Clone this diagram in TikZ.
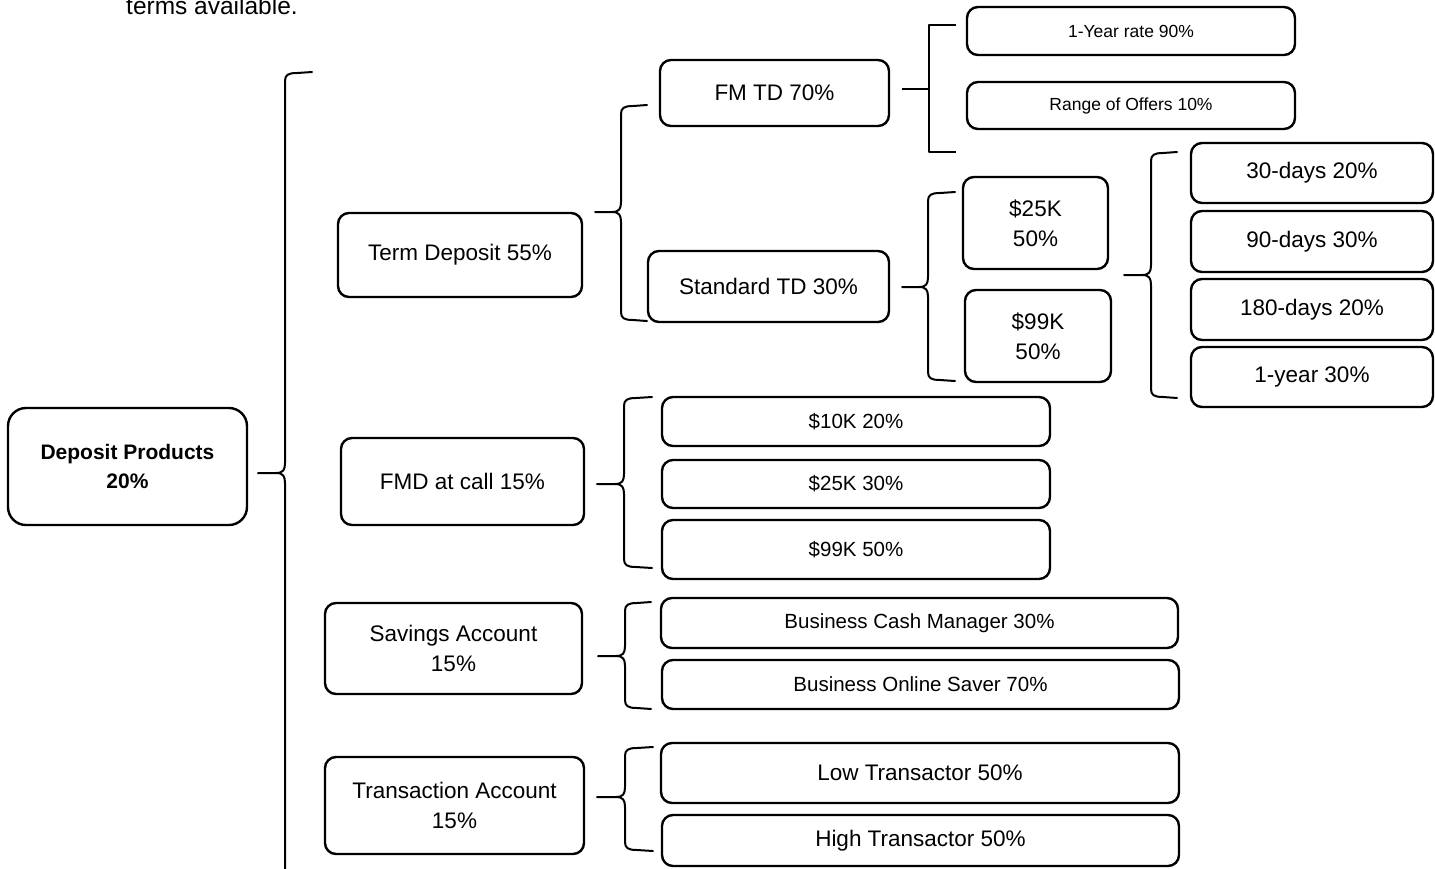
\documentclass[tikz,border=0pt]{standalone}
\usepackage{fontspec}
\setmainfont{Liberation Sans}
\begin{document}
\begin{tikzpicture}[x=1pt,y=-1pt,
  box/.style={draw=black,line width=2.4pt,rounded corners=11pt,align=center,inner sep=0pt,
    font=\fontsize{22.5}{30}\selectfont},
  medbox/.style={box,font=\fontsize{20.5}{26}\selectfont},
  smallbox/.style={box,font=\fontsize{17.5}{22}\selectfont},
  brace/.style={draw=black,line width=2pt,line cap=round,line join=round}]
\clip (0,0) rectangle (1435,868);
\fill[white] (0,0) rectangle (1435,868);
% brace macro: tip x, tip y, vertical x, top y, bottom y, end x
\newcommand\mybrace[6]{%
  \draw[brace] (#1,#2) -- ({#3-9},#2) .. controls ({#3-2},#2) and (#3,{#2-3}) .. (#3,{#2-10})
     -- (#3,{#4+8}) .. controls (#3,{#4+2}) and ({#3+3},#4) .. ({#3+12},#4) -- (#6,{#4-1});
  \draw[brace] ({#3-9},#2) .. controls ({#3-2},#2) and (#3,{#2+3}) .. (#3,{#2+10})
     -- (#3,{#5-8}) .. controls (#3,{#5-2}) and ({#3+3},#5) .. ({#3+12},#5) -- (#6,{#5+1});}

\node[anchor=base west,font=\fontsize{24.5}{28}\selectfont,inner sep=0pt] (cap) at (126,14) {terms available.};

% level 0
\node[box,rounded corners=18pt,font=\bfseries\fontsize{21}{29}\selectfont,minimum width=239pt,minimum height=117pt] (dp) at (127.5,466.5) {Deposit Products\\20\%};

% level 1
\node[box,minimum width=244pt,minimum height=84pt] (td) at (460,255) {Term Deposit 55\%};
\node[box,minimum width=243pt,minimum height=87pt] (fmd) at (462.5,481.5) {FMD at call 15\%};
\node[box,minimum width=257pt,minimum height=91pt] (sav) at (453.5,648.5) {Savings Account\\15\%};
\node[box,minimum width=259pt,minimum height=97pt] (tra) at (454.5,805.5) {Transaction Account\\15\%};

% level 2 (term deposit)
\node[box,minimum width=229pt,minimum height=66pt] (fmtd) at (774.5,93) {FM TD 70\%};
\node[box,minimum width=241pt,minimum height=71pt] (std) at (768.5,286.5) {Standard TD 30\%};

\node[smallbox,minimum width=328pt,minimum height=48pt] (yr) at (1131,31) {1-Year rate 90\%};
\node[smallbox,minimum width=328pt,minimum height=47pt] (ro) at (1131,105.5) {Range of Offers 10\%};

\node[box,minimum width=145pt,minimum height=92pt] (k25) at (1035.5,223) {\$25K\\50\%};
\node[box,minimum width=146pt,minimum height=92pt] (k99) at (1038,336) {\$99K\\50\%};

\node[box,minimum width=242pt,minimum height=60pt] (d30) at (1312,173) {30-days 20\%};
\node[box,minimum width=242pt,minimum height=61pt] (d90) at (1312,241.5) {90-days 30\%};
\node[box,minimum width=242pt,minimum height=61pt] (d180) at (1312,309.5) {180-days 20\%};
\node[box,minimum width=242pt,minimum height=60pt] (y1) at (1312,377) {1-year 30\%};

% FMD children
\node[medbox,minimum width=388pt,minimum height=49pt] (k10b) at (856,421.5) {\$10K 20\%};
\node[medbox,minimum width=388pt,minimum height=48pt] (k25b) at (856,484) {\$25K 30\%};
\node[medbox,minimum width=388pt,minimum height=59pt] (k99b) at (856,549.5) {\$99K 50\%};

% Savings children
\node[medbox,minimum width=517pt,minimum height=50pt] (bcm) at (919.5,623) {Business Cash Manager 30\%};
\node[medbox,minimum width=517pt,minimum height=49pt] (bos) at (920.5,684.5) {Business Online Saver 70\%};

% Transaction children
\node[box,minimum width=518pt,minimum height=60pt] (low) at (920,773) {Low Transactor 50\%};
\node[box,minimum width=517pt,minimum height=51pt] (high) at (920.5,840.5) {High Transactor 50\%};

% braces
\mybrace{258}{473}{285}{73}{885}{312}
\mybrace{595}{212}{621}{106}{320}{647}
\mybrace{902}{287}{928}{193}{380}{955}
\mybrace{1124}{275}{1151}{153}{397}{1177}
\mybrace{597}{484}{624}{398}{567}{652}
\mybrace{598}{656}{625}{603}{708}{651}
\mybrace{597}{797}{625}{748}{850}{653}
% square bracket for FM TD
\draw[brace,line cap=butt] (902,89) -- (929,89);
\draw[brace,line cap=butt] (956,25) -- (929,25) -- (929,152) -- (956,152);
\end{tikzpicture}
\end{document}
